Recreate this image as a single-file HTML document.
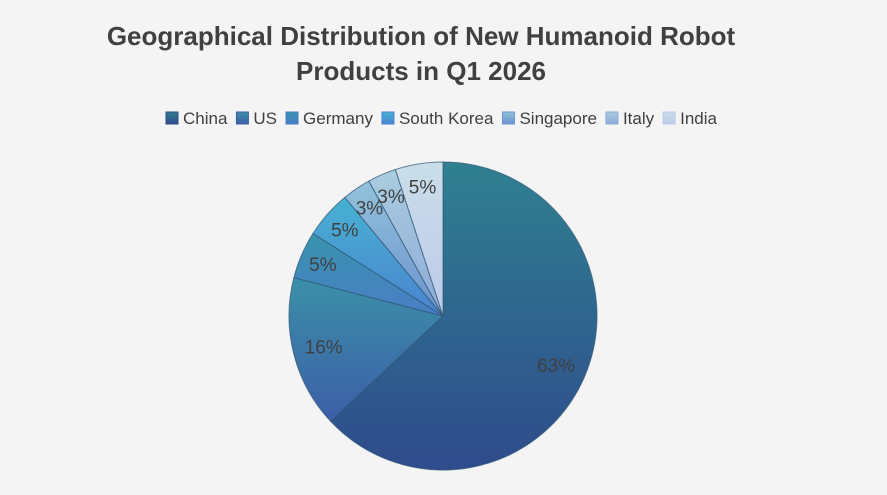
<!DOCTYPE html>
<html><head><meta charset="utf-8"><style>
html,body{margin:0;padding:0;background:#f4f4f4;}
body{width:887px;height:490px;overflow:hidden;font-family:"Liberation Sans",sans-serif;}
</style></head><body>
<svg id="chart" width="887" height="490" xmlns="http://www.w3.org/2000/svg">
<rect width="887" height="490" fill="#f4f4f4"/>
<defs id="defs"></defs>
<text x="421" y="45" text-anchor="middle" font-size="26" font-weight="bold" fill="#404040">Geographical Distribution of New Humanoid Robot</text>
<text x="421" y="80" text-anchor="middle" font-size="26" font-weight="bold" fill="#404040">Products in Q1 2026</text>
<g id="legend"></g>
<g id="slices"></g>
<g id="labels"></g>
</svg>
<script>
const categories = ["China","US","Germany","South Korea","Singapore","Italy","India"];
const values = [63,16,5,5,3,3,5];
const topColors = ["#2f8090","#3b90a8","#3893ae","#47b2d2","#92c2da","#aacde0","#cadeea"];
const bottomColors = ["#2f4b8c","#3c5ea8","#4a7ec6","#4a82d0","#6c92d0","#8eaad8","#bccaea"];
const NS="http://www.w3.org/2000/svg";
const cx=443, cy=316, R=154;
const defs=document.getElementById('defs');
const sl=document.getElementById('slices'), lb=document.getElementById('labels'), lg=document.getElementById('legend');
const total=values.reduce((a,b)=>a+b,0);
function pt(frac,r){const a=frac*2*Math.PI;return [cx+r*Math.sin(a), cy-r*Math.cos(a)];}
let acc=0;
values.forEach((v,i)=>{
  const g=document.createElementNS(NS,'linearGradient');
  g.setAttribute('id','g'+i);g.setAttribute('x1','0');g.setAttribute('y1','0');g.setAttribute('x2','0');g.setAttribute('y2','1');
  g.innerHTML=`<stop offset="0" stop-color="${topColors[i]}"/><stop offset="1" stop-color="${bottomColors[i]}"/>`;
  defs.appendChild(g);
  const s=acc/total, e=(acc+v)/total;
  const [x1,y1]=pt(s,R),[x2,y2]=pt(e,R);
  const p=document.createElementNS(NS,'path');
  p.setAttribute('d',`M${cx},${cy}L${x1},${y1}A${R},${R} 0 ${(e-s)>0.5?1:0} 1 ${x2},${y2}Z`);
  p.setAttribute('fill','url(#g'+i+')');p.setAttribute('stroke','#2c5672');p.setAttribute('stroke-opacity','0.7');p.setAttribute('stroke-width','1');
  
  
  sl.appendChild(p);
  const m=(s+e)/2;const lr=v>=10?0.8*R:0.85*R;
  const [lx,ly]=pt(m,lr);
  const t=document.createElementNS(NS,'text');
  t.setAttribute('x',lx);t.setAttribute('y',ly+7);t.setAttribute('text-anchor','middle');
  t.setAttribute('font-size','19');t.setAttribute('fill','#404040');
  t.textContent=Math.round(v/total*100)+'%';
  
  
  lb.appendChild(t);
  acc+=v;
});
const ctx=document.createElement('canvas').getContext('2d');ctx.font='17px "Liberation Sans"';
let widths=categories.map(c=>13+5+ctx.measureText(c).width);
let tw=widths.reduce((a,b)=>a+b,0)+8*(categories.length-1);
let x=442-tw/2;
categories.forEach((c,i)=>{
  const r=document.createElementNS(NS,'rect');
  r.setAttribute('x',x);r.setAttribute('y',112);r.setAttribute('width',12);r.setAttribute('height',12);
  r.setAttribute('fill','url(#g'+i+')');r.setAttribute('stroke',bottomColors[i]);
  
  
  lg.appendChild(r);
  const t=document.createElementNS(NS,'text');
  t.setAttribute('x',x+17);t.setAttribute('y',124);t.setAttribute('font-size','17');t.setAttribute('fill','#404040');
  t.textContent=c;
  
  
  lg.appendChild(t);
  x+=widths[i]+8;
});
</script>
</body></html>
